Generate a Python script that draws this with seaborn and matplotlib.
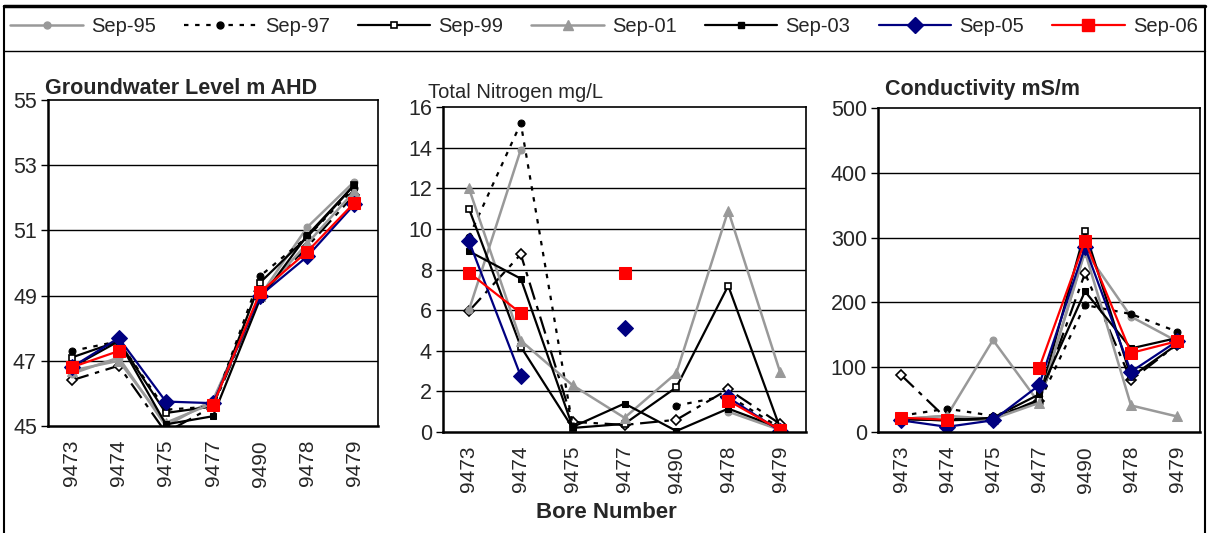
import numpy as np
import matplotlib
matplotlib.use("Agg")
import matplotlib.pyplot as plt
import seaborn as sns
from matplotlib.lines import Line2D
from matplotlib.ticker import FixedLocator, NullFormatter

bores = ["9473", "9474", "9475", "9477", "9490", "9478", "9479"]
nan = np.nan

# Groundwater level (m AHD)
gw_sep95 = [46.6, 47.1, 45.0, 45.8, 49.0, 51.1, 52.5]
gw_sep97 = [47.3, 47.6, 45.5, 45.6, 49.6, 50.8, 52.3]
gw_sep99 = [47.1, 47.6, 45.4, 45.6, 49.4, 50.8, 52.4]
gw_sep01 = [46.7, 47.0, 45.1, 45.7, 49.0, 50.6, 52.2]
gw_sep03 = [46.8, 47.6, 45.05, 45.3, 48.9, 50.85, 52.4]
gw_sep05 = [46.8, 47.7, 45.75, 45.7, 49.0, 50.2, 51.8]
gw_sep06 = [46.8, 47.3, nan, 45.65, 49.1, 50.35, 51.85]
gw_extra = [46.4, 46.85, 44.8, 45.6, 49.0, 50.5, 52.1]

# Total nitrogen (mg/L)
tn_sep95 = [6.0, 13.9, nan, nan, nan, 1.0, 0.1]
tn_sep97 = [9.6, 15.2, 0.3, nan, 1.3, 1.8, 0.2]
tn_sep99 = [11.0, 4.2, 0.2, 0.4, 2.2, 7.2, 0.2]
tn_sep01 = [12.0, 4.5, 2.3, 0.7, 2.9, 10.9, 2.95]
tn_sep03 = [8.9, 7.55, 0.25, 1.4, 0.05, 1.15, 0.2]
tn_sep05 = [9.4, 2.75, nan, 5.1, nan, 1.7, 0.05]
tn_sep06 = [7.85, 5.85, nan, 7.85, nan, 1.55, 0.1]
tn_extra = [5.95, 8.75, 0.5, 0.35, 0.6, 2.1, 0.4]

# Conductivity (mS/m)
ec_sep95 = [20, 25, 142, 45, 280, 178, 140]
ec_sep97 = [25, 36, 25, 45, 196, 182, 155]
ec_sep99 = [20, 18, 20, 50, 310, 85, 135]
ec_sep01 = [20, 25, 20, 45, 278, 41, 24]
ec_sep03 = [20, 18, 22, 58, 217, 129, 145]
ec_sep05 = [18, 8, 18, 72, 285, 93, 140]
ec_sep06 = [22, 19, nan, 98, 295, 122, 140]
ec_extra = [88, 20, 22, 48, 245, 80, 135]

labels = ["Sep-95", "Sep-97", "Sep-99", "Sep-01", "Sep-03", "Sep-05", "Sep-06"]

GREY = "#999999"
NAVY = "#000080"
styles = {
    "extra": dict(color="black", ls=(0, (8, 3, 2, 3)), lw=1.6, marker="D", ms=5,
                  mfc="white", mec="black", mew=1.2),
    "Sep-95": dict(color=GREY, ls="-", lw=1.8, marker="o", ms=5, mfc=GREY, mec=GREY),
    "Sep-97": dict(color="black", ls=(0, (2, 3)), lw=1.6, marker="o", ms=5, mfc="black", mec="black"),
    "Sep-99": dict(color="black", ls="-", lw=1.6, marker="s", ms=5, mfc="white", mec="black", mew=1.2),
    "Sep-01": dict(color=GREY, ls="-", lw=1.8, marker="^", ms=7, mfc=GREY, mec=GREY),
    "Sep-03": dict(color="black", ls="-", lw=1.6, marker="s", ms=5, mfc="black", mec="black"),
    "Sep-05": dict(color=NAVY, ls="-", lw=1.6, marker="D", ms=8, mfc=NAVY, mec=NAVY),
    "Sep-06": dict(color="red", ls="-", lw=1.6, marker="s", ms=9, mfc="red", mec="red"),
}

panels = [
    (dict(zip(["extra"] + labels, [gw_extra, gw_sep95, gw_sep97, gw_sep99, gw_sep01,
                                    gw_sep03, gw_sep05, gw_sep06])),
     (45, 55), np.arange(45, 56, 2)),
    (dict(zip(["extra"] + labels, [tn_extra, tn_sep95, tn_sep97, tn_sep99, tn_sep01,
                                    tn_sep03, tn_sep05, tn_sep06])),
     (0, 16), np.arange(0, 17, 2)),
    (dict(zip(["extra"] + labels, [ec_extra, ec_sep95, ec_sep97, ec_sep99, ec_sep01,
                                    ec_sep03, ec_sep05, ec_sep06])),
     (0, 500), np.arange(0, 501, 100)),
]


def draw_series(ax, values, style):
    y = np.array(values, dtype=float)
    x = np.arange(len(y))
    idx = np.flatnonzero(~np.isnan(y))
    runs = np.split(idx, np.where(np.diff(idx) > 1)[0] + 1)
    for r in runs:
        sns.lineplot(x=x[r], y=y[r], ax=ax, estimator=None, errorbar=None,
                     legend=False, **style)


sns.set_style("white")
plt.rcParams["font.family"] = ["Liberation Sans", "DejaVu Sans"]

fig = plt.figure(figsize=(12.08, 5.33), dpi=100)
W, H = 1208, 533
boxes = [(48, 100, 378, 426), (443, 107, 806, 432), (878, 108, 1200, 432)]

for (l, t, r, b), (series, ylim, yticks) in zip(boxes, panels):
    ax = fig.add_axes([l / W, 1 - b / H, (r - l) / W, (b - t) / H])
    for key, vals in series.items():
        draw_series(ax, vals, styles[key])
    ax.set_xlim(-0.5, len(bores) - 0.5)
    ax.set_ylim(*ylim)
    ax.set_yticks(yticks)
    ax.set_xticks(np.arange(len(bores)))
    ax.set_xticklabels(bores, rotation=90)
    ax.xaxis.set_minor_locator(FixedLocator(np.arange(-0.5, len(bores), 1)))
    ax.xaxis.set_minor_formatter(NullFormatter())
    ax.tick_params(axis="x", which="major", length=0, pad=10, labelsize=15)
    ax.tick_params(axis="x", which="minor", length=6, width=1, direction="out", color="black")
    ax.tick_params(axis="y", length=5, width=1, direction="out", color="black",
                   left=True, labelsize=15.5, pad=3)
    for y in yticks[1:-1]:
        ax.axhline(y, color="black", lw=1, zorder=0)
    for s in ax.spines.values():
        s.set_color("black")
        s.set_linewidth(1.2)
    ax.spines["bottom"].set_linewidth(1.8)
    ax.spines["left"].set_linewidth(1.8)
    ax.set_xlabel("")
    ax.set_ylabel("")

fig.text(45 / W, 1 - 88 / H, "Groundwater Level m AHD", fontsize=15.5,
         fontweight="bold", va="center", ha="left")
fig.text(428 / W, 1 - 93 / H, "Total Nitrogen mg/L", fontsize=14.5,
         va="center", ha="left")
fig.text(885 / W, 1 - 90 / H, "Conductivity mS/m", fontsize=15.5,
         fontweight="bold", va="center", ha="left")
fig.text(606 / W, 1 - 513 / H, "Bore Number", fontsize=16,
         fontweight="bold", va="center", ha="center")

handles = [Line2D([], [], **styles[k]) for k in labels]
fig.legend(handles, labels, loc="center", bbox_to_anchor=(0.5, 1 - 27 / H),
           ncol=7, frameon=False, fontsize=14.5, handlelength=3.6,
           columnspacing=1.4, handletextpad=0.4)

# outer frame and legend separator
frame_kw = dict(color="black", lw=1.5, transform=fig.transFigure)
fig.add_artist(Line2D([4 / W, 1205 / W], [1 - 6 / H, 1 - 6 / H], lw=2.5, color="black",
                      transform=fig.transFigure))
fig.add_artist(Line2D([4 / W, 4 / W], [0, 1 - 6 / H], **frame_kw))
fig.add_artist(Line2D([1205 / W, 1205 / W], [0, 1 - 6 / H], **frame_kw))
fig.add_artist(Line2D([4 / W, 1205 / W], [1 - 51 / H, 1 - 51 / H], color="black", lw=1,
                      transform=fig.transFigure))

fig.savefig("out.png", dpi=100)
